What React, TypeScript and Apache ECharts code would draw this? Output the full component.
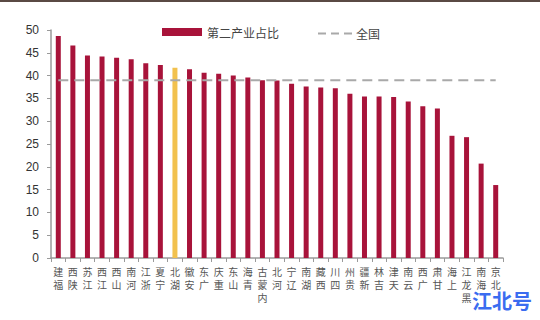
import React, { useEffect, useRef } from "react";
import * as echarts from "echarts";

const provinces = [
  "福建", "陕西", "江苏", "江西", "山西", "河南", "浙江", "宁夏", "湖北", "安徽",
  "广东", "重庆", "山东", "青海", "内蒙古", "河北", "辽宁", "湖南", "西藏", "四川",
  "贵州", "新疆", "吉林", "天津", "云南", "广西", "甘肃", "上海", "黑龙江", "海南", "北京",
];
const secondaryShare = [
  48.7, 46.6, 44.4, 44.2, 43.9, 43.6, 42.7, 42.3, 41.7, 41.4,
  40.6, 40.4, 40.0, 39.6, 39.0, 38.9, 38.2, 37.6, 37.4, 37.2,
  36.0, 35.4, 35.4, 35.3, 34.3, 33.3, 32.8, 26.8, 26.5, 20.7, 16.0,
];
const nationalShare = 39.0;
const highlight = "湖北";
const yTicks = [0, 5, 10, 15, 20, 25, 30, 35, 40, 45, 50];

export default function App() {
  const ref = useRef<HTMLDivElement>(null);
  useEffect(() => {
    if (!ref.current) return;
    const chart = echarts.init(ref.current, null, { renderer: "svg" });
    chart.setOption({
      animation: false,
      backgroundColor: "#ffffff",
      grid: { left: 51, right: 37, top: 30, bottom: 62 },
      legend: {
        top: 26,
        left: 162,
        padding: 0,
        itemWidth: 40,
        itemHeight: 8,
        itemGap: 30,
        textStyle: { fontFamily: "Noto Sans CJK SC", fontSize: 12, color: "#444" },
        data: [{ name: "第二产业占比", icon: "rect" }],
      },
      xAxis: {
        type: "category",
        data: provinces,
        axisLine: { lineStyle: { color: "#9a9a9a", width: 1.5 } },
        axisTick: { show: true, length: 4, lineStyle: { color: "#9a9a9a" } },
        axisLabel: {
          interval: 0,
          margin: 7,
          fontSize: 10,
          lineHeight: 13,
          color: "#555",
          fontFamily: "Noto Sans CJK SC",
          verticalAlign: "top",
          formatter: (v: string) => v.split("").reverse().join("\n"),
        },
      },
      yAxis: {
        type: "value",
        min: yTicks[0],
        max: yTicks[yTicks.length - 1],
        interval: 5,
        splitLine: { show: false },
        axisLine: { show: true, lineStyle: { color: "#9a9a9a", width: 1.5 } },
        axisTick: { show: true, length: 4, lineStyle: { color: "#9a9a9a" } },
        axisLabel: { margin: 12, fontSize: 12, color: "#333", fontFamily: "Liberation Sans" },
      },
      series: [
        {
          name: "第二产业占比",
          type: "bar",
          barWidth: 5,
          itemStyle: { color: "#a8133a" },
          data: secondaryShare.map((v, i) =>
            provinces[i] === highlight ? { value: v, itemStyle: { color: "#f2c14e" } } : v
          ),
          z: 2,
        },
        {
          name: "全国",
          type: "line",
          symbol: "none",
          data: provinces.map(() => nationalShare),
          lineStyle: { color: "#a9a9a9", width: 2, type: [10, 6] },
          itemStyle: { color: "#a9a9a9" },
          z: 3,
        },
      ],
      graphic: [
        {
          type: "line",
          shape: { x1: 0, y1: 1, x2: 540, y2: 1 },
          style: { stroke: "#5a4a44", lineWidth: 2 },
        },
        {
          type: "line",
          shape: { x1: 318, y1: 33.5, x2: 352, y2: 33.5 },
          style: { stroke: "#a9a9a9", lineWidth: 2, lineDash: [8, 5] },
        },
        {
          type: "text",
          x: 356,
          y: 33.5,
          style: {
            text: "全国",
            fill: "#444",
            font: "12px 'Noto Sans CJK SC'",
            verticalAlign: "middle",
          },
        },
        {
          type: "text",
          left: 472,
          top: 290,
          style: {
            text: "江北号",
            fill: "#3a6cf0",
            font: "bold 20px 'Noto Sans CJK SC'",
          },
        },
      ],
    });
    return () => chart.dispose();
  }, []);
  return <div ref={ref} style={{ width: 540, height: 320, position: "absolute", left: 0, top: 0 }} />;
}
